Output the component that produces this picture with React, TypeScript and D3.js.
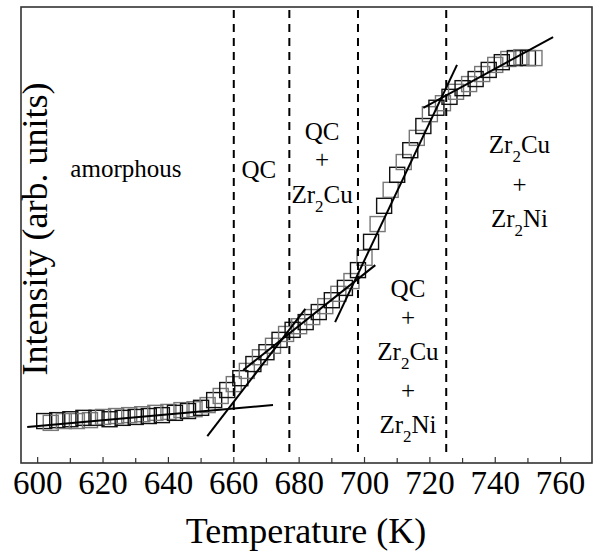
import React from "react";
import * as d3 from "d3";

// measured points (temperature K, intensity arb. units)
const temps = [
  602, 604, 606, 608, 610, 612, 614, 616, 618, 620, 622, 624, 626, 628, 630, 632, 634, 636, 638, 640,
  642, 644, 646, 648, 650, 652, 654, 656, 658, 660, 662, 664, 666, 668, 670, 672, 674, 676, 678, 680,
  682, 684, 686, 688, 690, 692, 694, 696, 698, 700, 702, 704, 706, 708, 710, 712, 714, 716, 718, 720,
  722, 724, 726, 728, 730, 732, 734, 736, 738, 740, 742, 744, 746, 748, 750, 752,
];
const intensity = [
  9.2, 8.8, 9.4, 9.2, 9.6, 9.2, 9.9, 9.4, 9.9, 10.1, 9.6, 10.3, 9.9, 10.5, 10.1, 10.7, 10.3, 11.0, 10.5, 11.2,
  11.0, 11.6, 11.4, 11.8, 12.1, 12.7, 13.8, 14.7, 16.0, 17.3, 18.6, 20.2, 21.7, 23.2, 24.3, 25.7, 27.0, 28.3, 29.2, 30.0,
  30.9, 32.0, 33.1, 34.4, 35.7, 37.1, 38.4, 39.9, 42.3, 45.0, 48.5, 52.4, 56.4, 59.9, 63.2, 66.0, 68.6, 71.3, 73.9, 76.5,
  77.9, 78.9, 80.3, 81.4, 82.2, 83.1, 84.2, 85.3, 86.2, 87.3, 87.9, 88.6, 88.8, 89.0, 88.8, 88.8,
];

// linear fits drawn over the data: [T1, I1, T2, I2]
const fitLines = [
  [596.8, 7.9, 672, 12.7],
  [651.9, 5.9, 681.9, 33.8],
  [662.9, 20.4, 703.3, 43.4],
  [691, 30.9, 728.3, 87.3],
  [718, 77.9, 757.7, 93.4],
];

// phase boundaries (K)
const boundaries = [660, 677, 698, 725];

const xTicks = [600, 620, 640, 660, 680, 700, 720, 740, 760];
const xMinor = d3.range(600, 770, 10);

// region labels: lines of text placed at (T, intensity)
const regionLabels = [
  { T: 627, lines: [["amorphous", 62.7]] },
  { T: 667.7, lines: [["QC", 62.5]] },
  { T: 687, lines: [["QC", 70.8], ["+", 64.6], ["Zr|2|Cu", 57.0]] },
  { T: 713.3, lines: [["QC", 36.4], ["+", 30.0], ["Zr|2|Cu", 22.6], ["+", 14.0], ["Zr|2|Ni", 6.6]] },
  { T: 747.4, lines: [["Zr|2|Cu", 68.0], ["+", 59.2], ["Zr|2|Ni", 51.8]] },
];

const W = 593;
const H = 551;
const left = 21, right = 592, top = 7, bottom = 463;
const font = "'Liberation Serif', 'Times New Roman', serif";

export default function App() {
  const x = d3.scaleLinear().domain([594.9, 769.6]).range([left, right]);
  const y = d3.scaleLinear().domain([0, 100]).range([bottom, top]);
  const sq = 15;

  const renderLabel = (s: string) => {
    const parts = s.split("|");
    if (parts.length === 1) return s;
    return (
      <>
        {parts[0]}
        <tspan fontSize={17} dy={9}>{parts[1]}</tspan>
        <tspan dy={-9}>{parts[2]}</tspan>
      </>
    );
  };

  return (
    <svg width={W} height={H} style={{ position: "absolute", left: 0, top: 0, background: "#fff" }}>
      <rect x={0} y={0} width={W} height={H} fill="#fff" />

      {/* data squares */}
      {temps.map((t, i) => (
        <rect
          key={i}
          x={x(t) - sq / 2}
          y={y(intensity[i]) - sq / 2}
          width={sq}
          height={sq}
          fill="none"
          stroke={i % 2 === 0 ? "#111" : "#777"}
          strokeWidth={1.4}
        />
      ))}

      {/* fit lines */}
      {fitLines.map((l, i) => (
        <line key={i} x1={x(l[0])} y1={y(l[1])} x2={x(l[2])} y2={y(l[3])} stroke="#000" strokeWidth={2} />
      ))}

      {/* phase boundaries */}
      {boundaries.map((b) => (
        <line key={b} x1={x(b)} x2={x(b)} y1={10} y2={458} stroke="#000" strokeWidth={2} strokeDasharray="8,6" />
      ))}

      {/* frame */}
      <rect x={left} y={top} width={right - left} height={bottom - top} fill="none" stroke="#333" strokeWidth={1.6} />

      {/* ticks */}
      {xMinor.map((t) => (
        <line key={t} x1={x(t)} x2={x(t)} y1={bottom} y2={bottom - (t % 20 === 0 ? 6 : 5)} stroke="#333" strokeWidth={1.2} />
      ))}
      {xTicks.map((t) => (
        <text key={t} x={x(t)} y={494} textAnchor="middle" fontFamily={font} fontSize={33} fill="#000">
          {t}
        </text>
      ))}

      {/* region labels */}
      {regionLabels.map((r, i) =>
        r.lines.map((ln, j) => (
          <text
            key={i + "-" + j}
            x={x(r.T)}
            y={y(ln[1] as number)}
            textAnchor="middle"
            fontFamily={font}
            fontSize={25}
            fontWeight={ln[0] === "+" ? 300 : 400}
            fill="#000"
          >
            {renderLabel(ln[0] as string)}
          </text>
        ))
      )}

      {/* axis titles */}
      <text x={306} y={543} textAnchor="middle" fontFamily={font} fontSize={36} fill="#000">
        Temperature (K)
      </text>
      <text
        transform="translate(47,229) rotate(-90)"
        textAnchor="middle"
        fontFamily={font}
        fontSize={36}
        fill="#000"
      >
        Intensity (arb. units)
      </text>
    </svg>
  );
}
